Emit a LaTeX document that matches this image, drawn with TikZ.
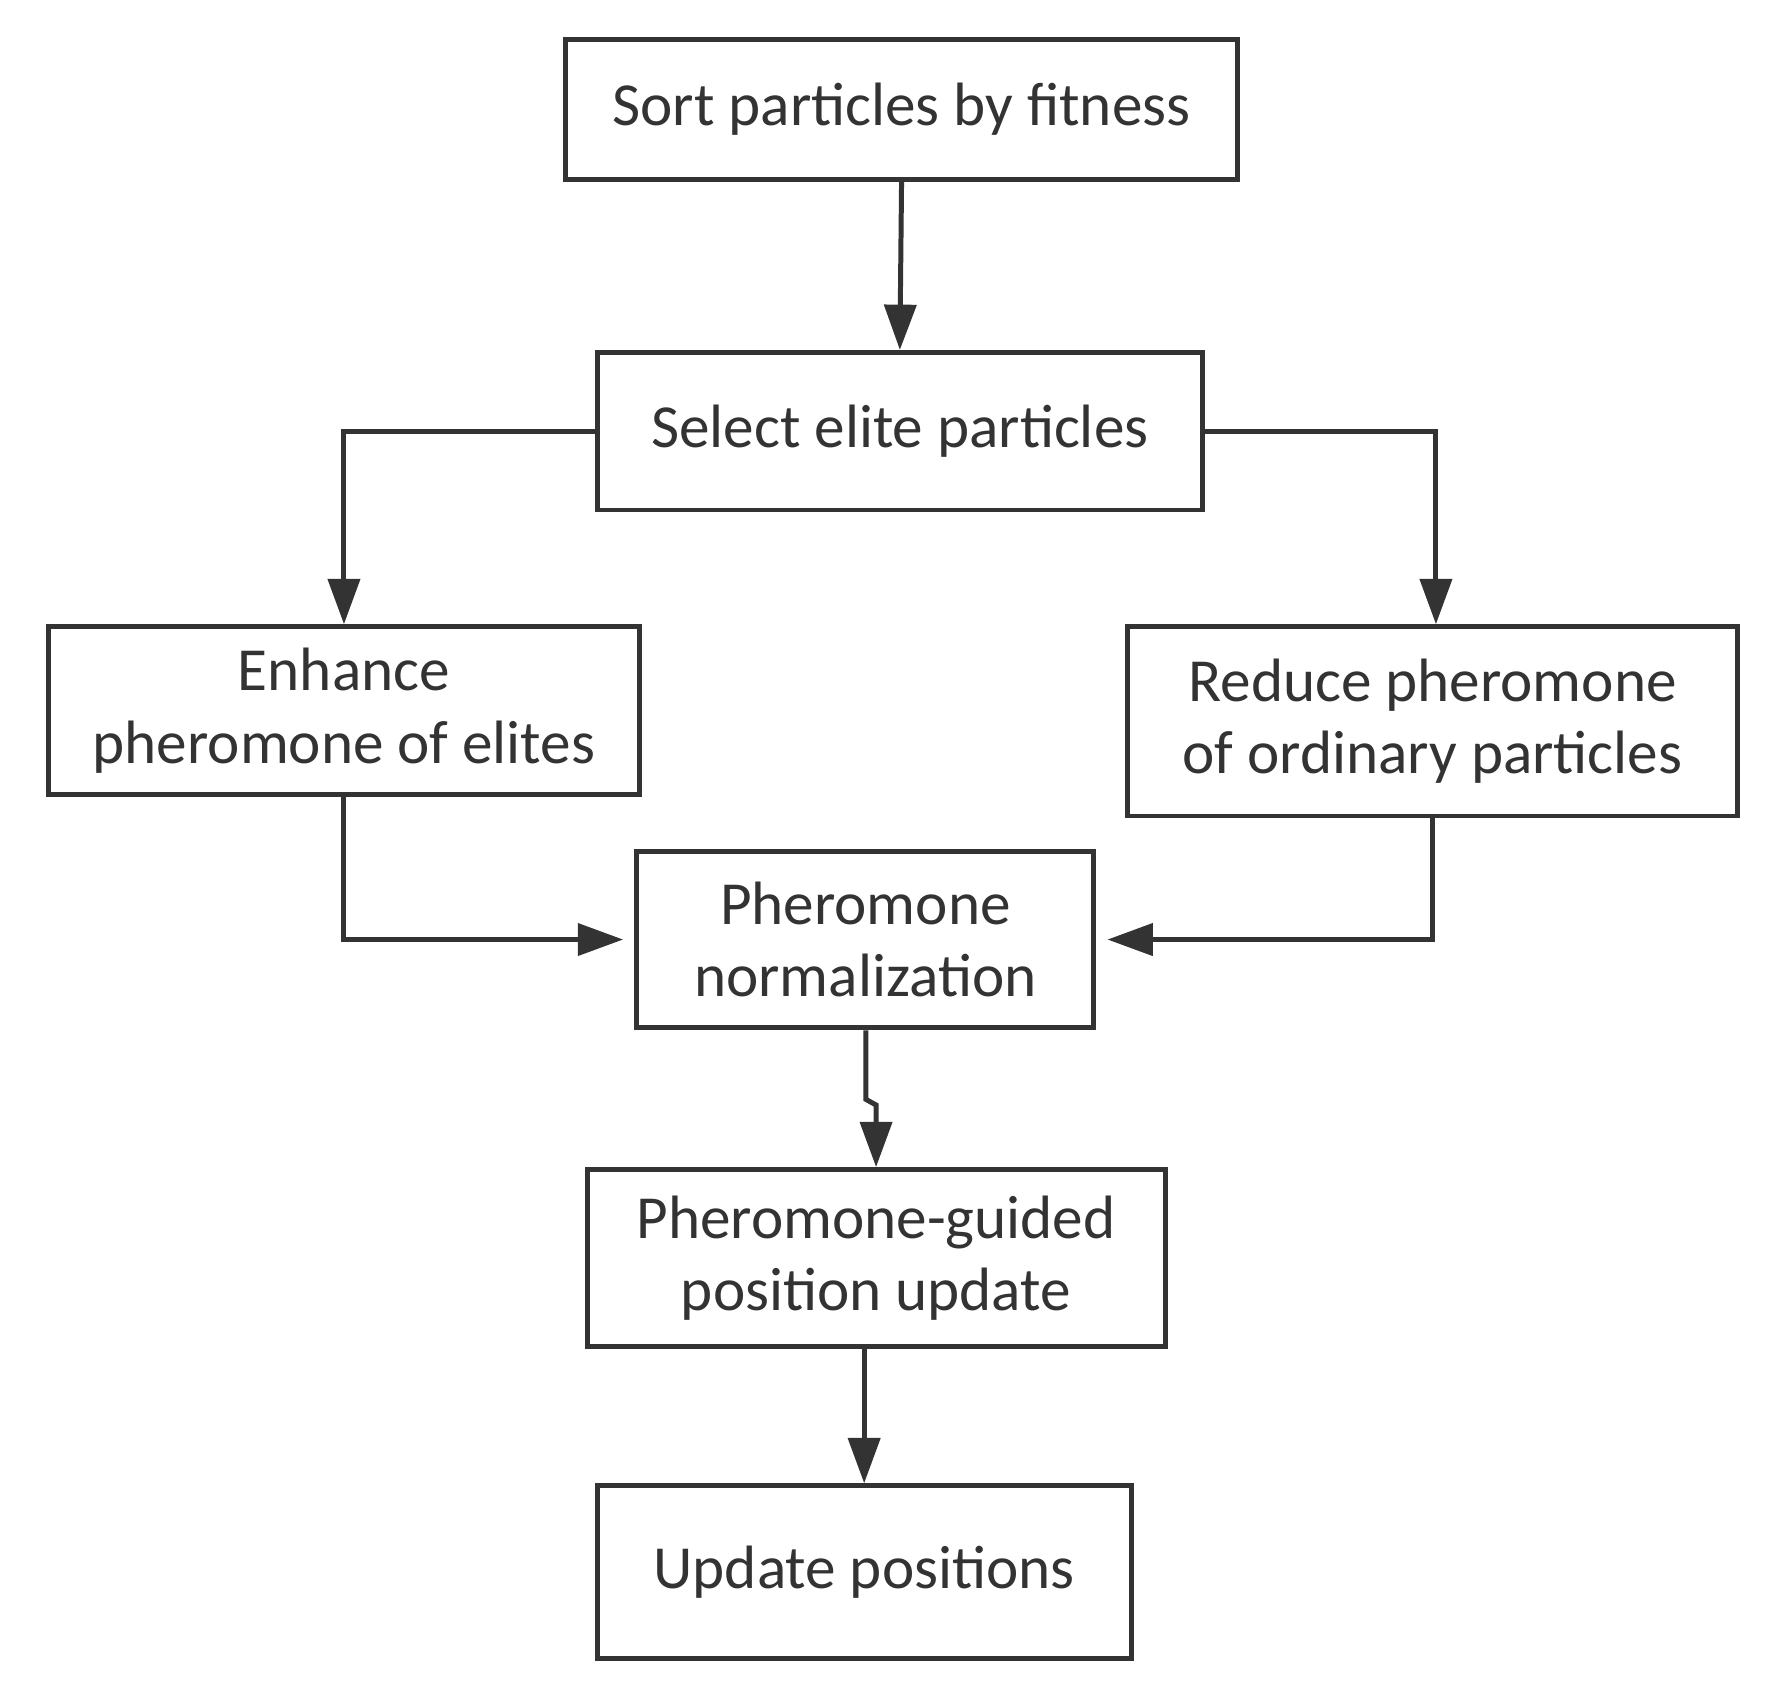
\documentclass[tikz,border=0pt]{standalone}
\usepackage{fontspec}
\setmainfont{Carlito}
\usetikzlibrary{arrows.meta}
\definecolor{ink}{HTML}{333333}
\begin{document}
\begin{tikzpicture}[x=0.5pt,y=-0.5pt,
  box/.style={draw=ink,line width=2.2pt,fill=white,inner sep=0pt,align=center,text=ink,font=\fontsize{27}{32}\selectfont},
  conn/.style={draw=ink,line width=2.2pt,-{Triangle[length=20pt,width=14pt]}}]
\useasboundingbox[fill=white] (0,0) rectangle (1560,1492);
\node[box,minimum width=296.5pt,minimum height=61.5pt] (sort) at (795.5,96.5) {Sort particles by fitness};
\node[box,minimum width=267pt,minimum height=69.5pt] (sel) at (794,380.5) {Select elite particles};
\node[box,minimum width=260.5pt,minimum height=74pt] (enh) at (303.5,627) {Enhance\\pheromone of elites};
\node[box,minimum width=269pt,minimum height=83.5pt] (red) at (1264,636.5) {Reduce pheromone\\of ordinary particles};
\node[box,minimum width=201.5pt,minimum height=78pt] (norm) at (763.5,829) {Pheromone\\normalization};
\node[box,minimum width=255pt,minimum height=78pt] (gui) at (773,1110) {Pheromone-guided\\position update};
\node[box,minimum width=235.5pt,minimum height=76pt] (upd) at (762.5,1387) {Update positions};
\coordinate (j1) at (764,970);
\coordinate (j2) at (773,975);
\draw[conn] (sort.south) -- (sel.north);
\draw[conn] (sel.west) -| (enh.north);
\draw[conn] (sel.east) -| ([xshift=1.5pt]red.north);
\draw[conn] (enh.south) |- ([xshift=-5pt]norm.west);
\draw[conn] (red.south) |- ([xshift=5pt]norm.east);
\draw[conn] (norm.south -| j1) -- (j1) -- (j2) -- (gui.north -| j2);
\draw[conn] (gui.south -| upd.north) -- (upd.north);
\end{tikzpicture}
\end{document}
